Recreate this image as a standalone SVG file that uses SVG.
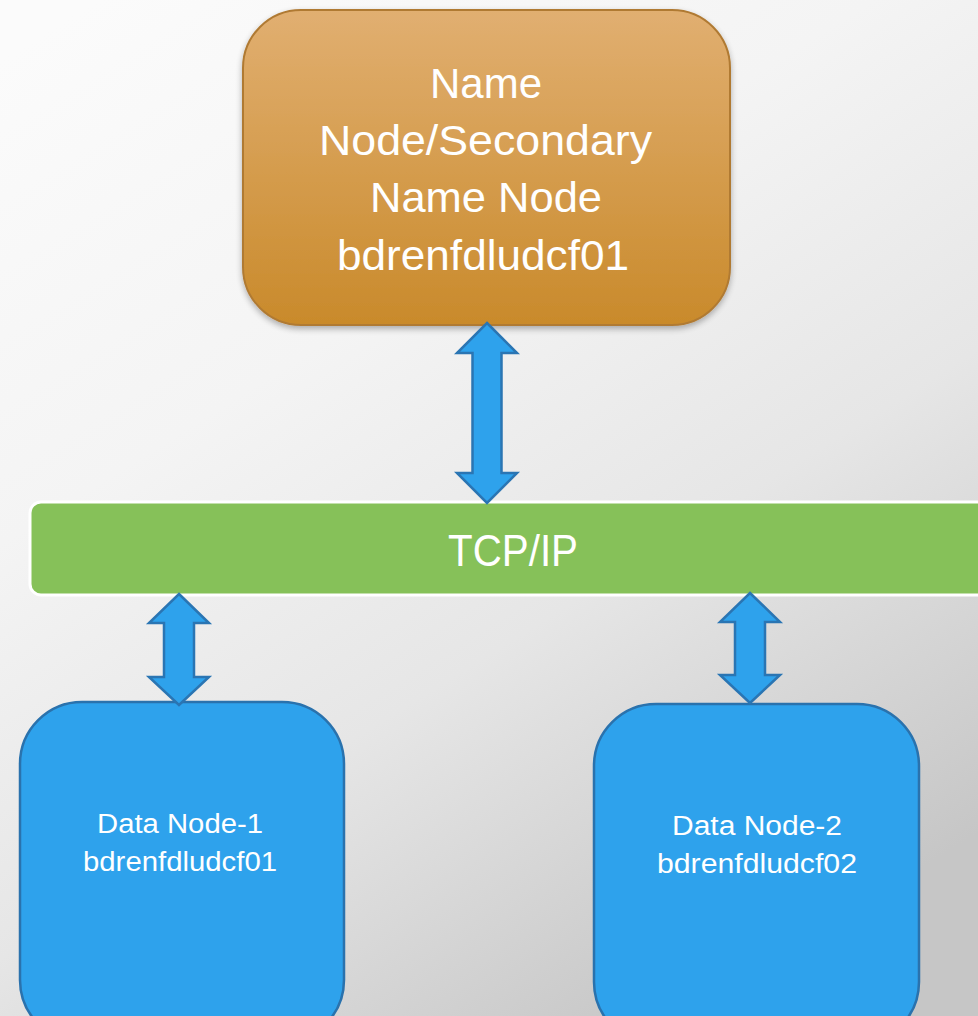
<svg xmlns="http://www.w3.org/2000/svg" width="978" height="1016" viewBox="0 0 978 1016">
  <defs>
    <linearGradient id="bg" x1="0.1" y1="0" x2="0.7" y2="1">
      <stop offset="0" stop-color="#fbfbfb"/>
      <stop offset="0.35" stop-color="#f4f4f4"/>
      <stop offset="0.65" stop-color="#e6e6e6"/>
      <stop offset="1" stop-color="#c6c6c6"/>
    </linearGradient>
    <linearGradient id="orange" x1="0" y1="0" x2="0" y2="1">
      <stop offset="0" stop-color="#e1af71"/>
      <stop offset="1" stop-color="#c98a2b"/>
    </linearGradient>
    <filter id="shadow" x="-10%" y="-10%" width="120%" height="125%">
      <feGaussianBlur in="SourceAlpha" stdDeviation="3"/>
      <feOffset dx="0" dy="3" result="b"/>
      <feComponentTransfer><feFuncA type="linear" slope="0.3"/></feComponentTransfer>
      <feMerge><feMergeNode/><feMergeNode in="SourceGraphic"/></feMerge>
    </filter>
    <style>
      .lbl { font-family: "Liberation Sans", Arial, sans-serif; fill: #ffffff; text-anchor: middle; }
      .big { font-size: 42px; }
      .bar { font-size: 44px; }
      .small { font-size: 27px; }
      .data { fill: #2ea2ec; stroke: #2a72ad; stroke-width: 2.5; }
      .link { fill: #2ea2ec; stroke: #2a75b3; stroke-width: 2.5; stroke-linejoin: miter; }
    </style>
  </defs>

  <!-- backdrop -->
  <rect x="0" y="0" width="978" height="1016" fill="url(#bg)"/>

  <!-- name node -->
  <g id="name-node">
    <rect x="243" y="10" width="487" height="315" rx="58" ry="58" fill="url(#orange)" stroke="#b07a33" stroke-width="2" filter="url(#shadow)"/>
    <text class="lbl big" x="486" y="98" textLength="112" lengthAdjust="spacingAndGlyphs">Name</text>
    <text class="lbl big" x="485.5" y="155" textLength="333" lengthAdjust="spacingAndGlyphs">Node/Secondary</text>
    <text class="lbl big" x="486" y="212" textLength="232" lengthAdjust="spacingAndGlyphs">Name Node</text>
    <text class="lbl big" x="483" y="270" textLength="292" lengthAdjust="spacingAndGlyphs">bdrenfdludcf01</text>
  </g>

  <!-- network bus -->
  <g id="tcp-ip">
    <rect x="30" y="502" width="970" height="93" rx="11" ry="11" fill="#86c159" stroke="#ffffff" stroke-width="3"/>
    <text class="lbl bar" x="513" y="566" textLength="130" lengthAdjust="spacingAndGlyphs">TCP/IP</text>
  </g>

  <!-- data nodes -->
  <g id="data-node-1">
    <rect class="data" x="20" y="702" width="324" height="340" rx="62" ry="62"/>
    <text class="lbl small" x="180" y="833" textLength="166" lengthAdjust="spacingAndGlyphs">Data Node-1</text>
    <text class="lbl small" x="180" y="871" textLength="194" lengthAdjust="spacingAndGlyphs">bdrenfdludcf01</text>
  </g>
  <g id="data-node-2">
    <rect class="data" x="594" y="704" width="325" height="340" rx="62" ry="62"/>
    <text class="lbl small" x="757" y="835" textLength="170" lengthAdjust="spacingAndGlyphs">Data Node-2</text>
    <text class="lbl small" x="757" y="873" textLength="200" lengthAdjust="spacingAndGlyphs">bdrenfdludcf02</text>
  </g>

  <!-- double-headed links -->
  <g id="connectors">
    <path class="link" d="M487,323 L517,353 L501.5,353 L501.5,473 L517,473 L487,503 L457,473 L472.5,473 L472.5,353 L457,353 Z"/>
    <path class="link" d="M179,594 L209,623 L194,623 L194,677 L209,677 L179,705 L149,677 L164,677 L164,623 L149,623 Z"/>
    <path class="link" d="M750,593 L780,622 L765,622 L765,675 L780,675 L750,703 L720,675 L735,675 L735,622 L720,622 Z"/>
  </g>
</svg>
